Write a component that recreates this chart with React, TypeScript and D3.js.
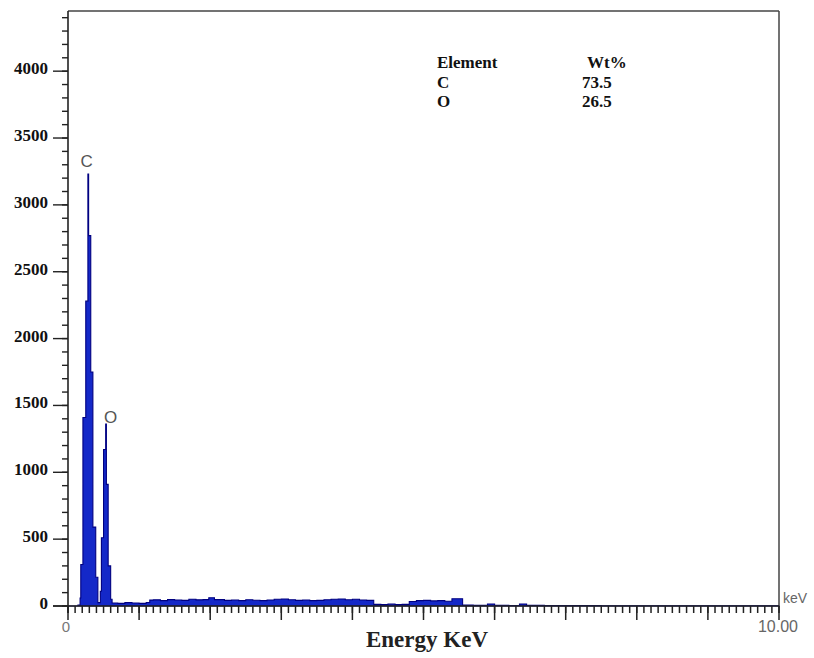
import React from 'react'
import { scaleLinear, area, curveStepAfter, range } from 'd3'

// EDS spectrum channels: start energy (keV) and counts
const channelKeV = [
  0, 0.14, 0.17, 0.18, 0.21, 0.25, 0.28, 0.29, 0.32, 0.35, 0.39, 0.42,
  0.455, 0.47, 0.5, 0.53, 0.54, 0.565, 0.6,
  0.62, 0.7, 0.8, 0.9, 1.0, 1.1, 1.15, 1.2, 1.3, 1.4, 1.5, 1.6, 1.7, 1.8, 1.9,
  1.98, 2.06, 2.2, 2.3, 2.4, 2.5, 2.6, 2.7, 2.8, 2.9, 3.0, 3.1, 3.2, 3.3, 3.4,
  3.5, 3.6, 3.7, 3.8, 3.9, 4.0, 4.1, 4.2, 4.3, 4.4, 4.5, 4.6, 4.7, 4.8, 4.9,
  5.0, 5.1, 5.2, 5.3, 5.4, 5.55, 5.7, 5.9, 6.0, 6.2, 6.35, 6.45, 6.7, 7.0,
  7.5, 8.0, 8.5, 9.0, 9.5, 10.0,
]
const counts = [
  0, 8, 60, 310, 1410, 2280, 3230, 2770, 1750, 590, 215, 25,
  110, 510, 1170, 1360, 910, 300, 50,
  22, 20, 25, 22, 20, 26, 44, 46, 40, 48, 45, 42, 50, 46, 48,
  62, 48, 42, 45, 40, 47, 43, 40, 45, 50, 52, 47, 42, 45, 40,
  42, 47, 50, 52, 47, 50, 45, 42, 12, 10, 14, 10, 12, 34, 40,
  42, 38, 40, 36, 54, 8, 5, 15, 6, 4, 15, 5, 4, 3,
  2, 2, 1, 1, 1, 0,
]

const peakLabels = ['C', 'O']
const peakKeV = [0.275, 0.6]
const peakCounts = [3230, 1360]
const peakLabelGap = [7, 1]

const yMajor = [0, 500, 1000, 1500, 2000, 2500, 3000, 3500, 4000]
const tableElements = ['C', 'O']
const tableWt = ['73.5', '26.5']

const App = () => {
  const width = 814
  const height = 658
  const left = 68
  const right = 779
  const top = 11
  const bottom = 606

  const x = scaleLinear().domain([0, 10]).range([left, right])
  const y = scaleLinear().domain([0, 4450]).range([bottom, top])

  const spectrum = channelKeV.map((e, i) => ({ e, c: counts[i] }))
  const spectrumArea = area<{ e: number; c: number }>()
    .x(d => x(d.e))
    .y0(y(0))
    .y1(d => y(d.c))
    .curve(curveStepAfter)

  const yMinor = range(0, 4401, 100)
  const xMinor = range(0, 101).map(i => i / 10)
  const xMajor = range(0, 11)

  const serif = '"Liberation Serif", "Times New Roman", serif'
  const sans = '"Liberation Sans", Arial, sans-serif'

  return (
    <svg width={width} height={height} style={{ position: 'absolute', left: 0, top: 0, background: '#fff' }}>
      <rect x={0} y={0} width={width} height={height} fill='#fff' />

      {/* spectrum */}
      <path d={spectrumArea(spectrum) || ''} fill='#1428c8' stroke='#000080' strokeWidth={1.1} />

      {/* frame */}
      <line x1={left} x2={right} y1={top} y2={top} stroke='#444' strokeWidth={1.5} />
      <line x1={right} x2={right} y1={top} y2={bottom} stroke='#444' strokeWidth={1.5} />
      <line x1={left} x2={left} y1={top} y2={bottom + 7} stroke='#222' strokeWidth={1.6} />
      <line x1={left - 15} x2={right} y1={bottom} y2={bottom} stroke='#222' strokeWidth={1.6} />

      {/* y ticks */}
      {yMinor.map(v => (
        <line key={'ym' + v} x1={left - 6} x2={left} y1={y(v)} y2={y(v)} stroke='#222' strokeWidth={1.4} />
      ))}
      {yMajor.map(v => (
        <g key={'yM' + v}>
          <line x1={left - 15} x2={left} y1={y(v)} y2={y(v)} stroke='#222' strokeWidth={1.4} />
          <text x={48} y={y(v) + 3} textAnchor='end' fontFamily={serif} fontWeight='bold' fontSize={17} fill='#111'>
            {v}
          </text>
        </g>
      ))}

      {/* x ticks */}
      {xMinor.map(v => (
        <line key={'xm' + v} x1={x(v)} x2={x(v)} y1={bottom} y2={bottom + 7} stroke='#222' strokeWidth={1.5} />
      ))}
      {xMajor.map(v => (
        <line key={'xM' + v} x1={x(v)} x2={x(v)} y1={bottom} y2={bottom + 14} stroke='#222' strokeWidth={1.5} />
      ))}
      <text x={x(0) - 2} y={632} textAnchor='middle' fontFamily={sans} fontSize={15} fill='#777'>0</text>
      <text x={x(10) - 1} y={632} textAnchor='middle' fontFamily={sans} fontSize={16} fill='#666'>10.00</text>
      <text x={783} y={603} fontFamily={sans} fontSize={14} fill='#666'>keV</text>

      {/* axis title */}
      <text x={427} y={647} textAnchor='middle' fontFamily={serif} fontWeight='bold' fontSize={23} fill='#222'>
        Energy KeV
      </text>

      {/* peak labels */}
      {peakLabels.map((l, i) => (
        <text key={l} x={x(peakKeV[i]) + (i === 0 ? -1 : 0)} y={y(peakCounts[i]) - peakLabelGap[i]}
          textAnchor='middle' fontFamily={sans} fontSize={17} fill='#555'>
          {l}
        </text>
      ))}

      {/* composition table */}
      <g fontFamily={serif} fontWeight='bold' fontSize={17} fill='#111'>
        <text x={437} y={68}>Element</text>
        <text x={587} y={68}>Wt%</text>
        {tableElements.map((el, i) => (
          <g key={el}>
            <text x={437} y={88 + i * 19}>{el}</text>
            <text x={582} y={88 + i * 19}>{tableWt[i]}</text>
          </g>
        ))}
      </g>
    </svg>
  )
}

export default App
